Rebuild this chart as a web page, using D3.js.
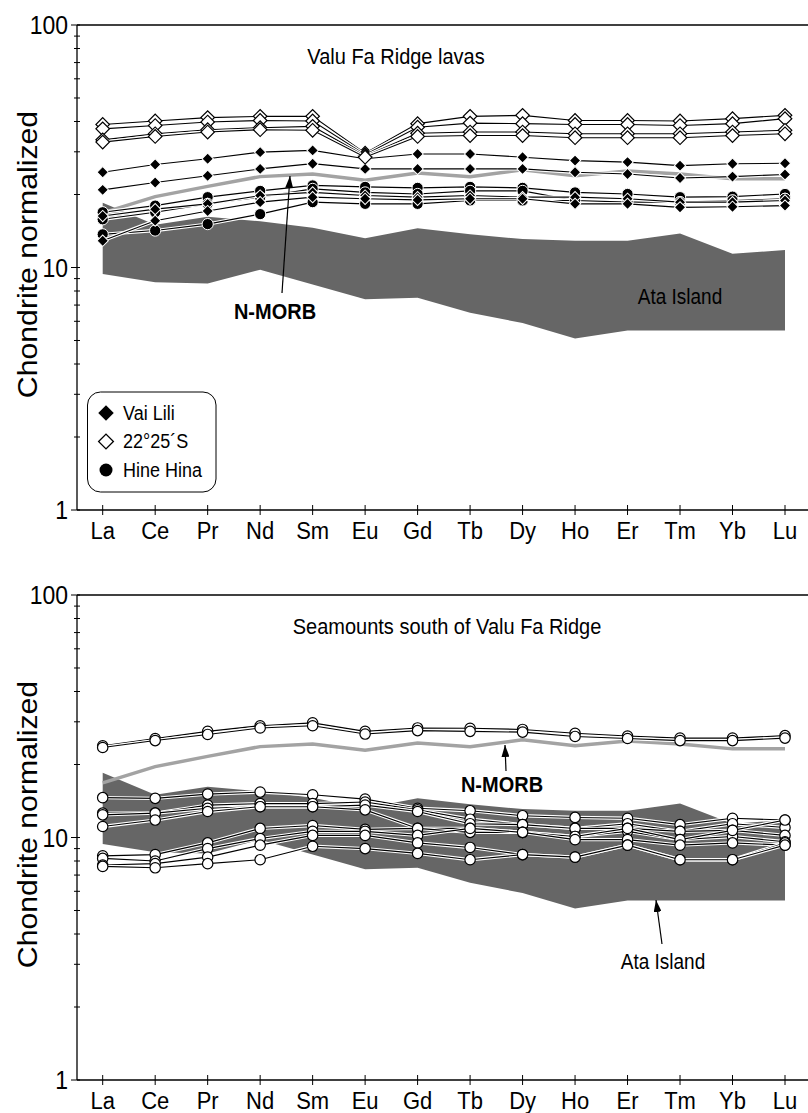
<!DOCTYPE html>
<html>
<head>
<meta charset="utf-8">
<script src="https://cdn.jsdelivr.net/npm/d3@7"></script>
<style>
  body { margin: 0; background: #fff; }
  svg { display: block; font-family: "Liberation Sans", Arial, sans-serif; }
</style>
</head>
<body>
<svg id="chart" width="808" height="1113"></svg>
<script>
// rare earth elements on the x axis
const ree = ["La", "Ce", "Pr", "Nd", "Sm", "Eu", "Gd", "Tb", "Dy", "Ho", "Er", "Tm", "Yb", "Lu"];
const yTickLabels = [1, 10, 100];

// reference curves (chondrite normalized)
const nmorb = [16.8, 19.6, 21.6, 23.7, 24.3, 22.9, 24.5, 23.7, 25.3, 23.9, 25.0, 24.3, 23.2, 23.2];
const ataUpper = [18.5, 15.0, 16.2, 15.5, 14.6, 13.2, 14.5, 13.7, 13.1, 12.9, 12.9, 13.8, 11.4, 11.8];
const ataLower = [9.4, 8.7, 8.6, 9.8, 8.5, 7.4, 7.5, 6.5, 5.9, 5.1, 5.5, 5.5, 5.5, 5.5];

// Valu Fa Ridge lavas
const site2225 = [
  [38.9, 40.2, 41.5, 42.0, 42.0, 29.6, 39.2, 42.0, 42.4, 40.4, 40.4, 40.2, 41.1, 42.4],
  [37.3, 38.5, 39.8, 40.4, 40.2, 29.2, 37.9, 39.4, 39.2, 38.9, 38.9, 38.5, 39.2, 41.1],
  [33.6, 35.6, 37.0, 37.7, 38.2, 28.8, 35.8, 36.2, 36.2, 35.6, 35.6, 35.6, 36.2, 36.8],
  [32.9, 34.7, 36.2, 37.0, 36.8, 28.5, 34.7, 35.0, 35.0, 34.3, 34.3, 34.3, 35.0, 35.6]
];
const vaiLili = [
  [24.7, 26.6, 28.1, 29.9, 30.4, 28.1, 29.4, 29.4, 28.5, 27.6, 27.2, 26.3, 26.8, 26.9],
  [20.9, 22.4, 23.9, 25.5, 26.8, 25.5, 25.5, 25.5, 25.5, 24.7, 24.3, 23.4, 23.7, 24.2],
  [16.3, 17.4, 18.3, 19.8, 20.4, 19.8, 19.5, 19.8, 19.5, 19.5, 19.2, 18.6, 18.6, 18.9],
  [12.9, 15.6, 17.1, 18.6, 19.5, 19.2, 19.0, 19.2, 19.2, 18.3, 18.3, 17.7, 17.8, 18.0]
];
const hineHina = [
  [16.9, 18.0, 19.5, 20.7, 21.8, 21.5, 21.3, 21.5, 21.3, 20.4, 20.1, 19.5, 19.6, 20.1],
  [15.8, 16.9, 18.3, 19.5, 21.1, 20.4, 20.1, 20.7, 20.7, 18.9, 18.6, 18.6, 18.9, 19.2],
  [13.7, 14.2, 15.1, 16.6, 18.6, 18.3, 18.3, 18.9, 18.9, 18.9, 18.6, 18.6, 18.9, 19.2]
];

// Seamounts south of Valu Fa Ridge
const seamounts = [
  [23.9, 25.6, 27.4, 28.9, 29.7, 27.4, 28.3, 28.2, 27.9, 26.9, 26.2, 25.7, 25.7, 26.3],
  [23.5, 25.1, 26.6, 28.3, 28.9, 26.7, 27.6, 27.4, 27.2, 26.1, 25.6, 25.1, 25.1, 25.7],
  [14.6, 14.5, 15.1, 15.4, 15.0, 14.4, 13.2, 12.9, 12.3, 12.1, 12.0, 11.3, 12.0, 11.8],
  [12.6, 12.6, 13.6, 13.8, 13.8, 14.0, 13.0, 11.9, 11.3, 10.9, 11.4, 10.6, 11.4, 11.0],
  [12.4, 12.6, 13.2, 13.4, 13.4, 13.6, 12.8, 11.4, 11.3, 10.9, 10.9, 10.6, 10.7, 10.2],
  [11.1, 11.8, 12.8, 13.4, 13.4, 13.0, 10.9, 10.9, 10.5, 10.1, 10.6, 9.8, 10.1, 9.6],
  [8.4, 8.5, 9.5, 10.9, 11.2, 10.8, 10.9, 10.5, 10.5, 10.1, 10.9, 9.8, 10.7, 11.8],
  [8.2, 8.0, 9.0, 9.9, 10.6, 10.6, 10.2, 10.9, 10.5, 9.8, 9.8, 9.3, 9.5, 9.3],
  [7.7, 7.8, 8.3, 9.3, 10.2, 10.2, 9.5, 9.1, 8.5, 8.3, 9.3, 8.1, 8.1, 9.5],
  [7.6, 7.5, 7.8, 8.1, 9.2, 9.0, 8.6, 8.1, 8.5, 8.3, 9.3, 8.1, 8.1, 9.3]
];

const legendItems = [
  { label: "Vai Lili", kind: "fd" },
  { label: "22°25´S", kind: "od" },
  { label: "Hine Hina", kind: "fc" }
];

const svg = d3.select("#chart");
const axisX = 77;
const rightEdge = 808;
const stretch = 1.12; // the original figure's type is drawn a little tall

svg.append("defs").append("marker")
  .attr("id", "arrow")
  .attr("viewBox", "0 0 12 8")
  .attr("refX", 12).attr("refY", 4)
  .attr("markerWidth", 12).attr("markerHeight", 8)
  .attr("markerUnits", "userSpaceOnUse")
  .attr("orient", "auto")
  .append("path").attr("d", "M0,0 L12,4 L0,8 z").attr("fill", "#000");

const x = d3.scalePoint().domain(ree).range([102.7, 785]);

function addText(g, tx, ty, str, size, anchor, weight) {
  return g.append("text")
    .attr("transform", `translate(${tx},${ty}) scale(1,${stretch})`)
    .attr("text-anchor", anchor || "middle")
    .attr("font-size", size)
    .attr("font-weight", weight || "normal")
    .text(str);
}

function drawMarker(g, cx, cy, kind) {
  if (kind === "fd") {
    g.append("path").attr("d", d3.symbol(d3.symbolSquare, 64)())
      .attr("transform", `translate(${cx},${cy}) rotate(45)`)
      .attr("fill", "#000").attr("stroke", "#fff").attr("stroke-width", 1);
  } else if (kind === "od") {
    g.append("path").attr("d", d3.symbol(d3.symbolSquare, 92)())
      .attr("transform", `translate(${cx},${cy}) rotate(45)`)
      .attr("fill", "#fff").attr("stroke", "#000").attr("stroke-width", 1.2);
  } else if (kind === "fc") {
    g.append("circle").attr("cx", cx).attr("cy", cy).attr("r", 5.6)
      .attr("fill", "#000").attr("stroke", "#fff").attr("stroke-width", 1);
  } else {
    g.append("circle").attr("cx", cx).attr("cy", cy).attr("r", 5.2)
      .attr("fill", "#fff").attr("stroke", "#000").attr("stroke-width", 1.2);
  }
}

function drawPanel(offsetY, title, titleX, series) {
  const g = svg.append("g").attr("transform", `translate(0,${offsetY})`);
  const y = d3.scaleLog().domain([1, 100]).range([510, 25]);
  const line = d3.line().x((d, i) => x(ree[i])).y(d => y(d));

  // Ata Island field
  const area = d3.area()
    .x((d, i) => x(ree[i]))
    .y0((d, i) => y(ataLower[i]))
    .y1(d => y(d));
  g.append("path").datum(ataUpper).attr("d", area).attr("fill", "#666666");

  // N-MORB
  g.append("path").datum(nmorb).attr("d", line)
    .attr("fill", "none").attr("stroke", "#a3a3a3").attr("stroke-width", 3.5);

  // frame: left axis, top line, bottom axis
  g.append("line").attr("x1", axisX).attr("x2", axisX).attr("y1", y(100)).attr("y2", y(1))
    .attr("stroke", "#000").attr("stroke-width", 1.3);
  g.append("line").attr("x1", axisX).attr("x2", rightEdge).attr("y1", y(100)).attr("y2", y(100))
    .attr("stroke", "#000").attr("stroke-width", 1.3);
  g.append("line").attr("x1", axisX).attr("x2", rightEdge).attr("y1", y(1)).attr("y2", y(1))
    .attr("stroke", "#000").attr("stroke-width", 1.3);

  // y ticks
  y.ticks().forEach(v => {
    const major = yTickLabels.includes(v);
    g.append("line")
      .attr("x1", major ? axisX - 6 : axisX - 3).attr("x2", axisX + 3)
      .attr("y1", y(v)).attr("y2", y(v))
      .attr("stroke", "#000").attr("stroke-width", 1);
  });
  yTickLabels.forEach(v => {
    addText(g, axisX - 9, y(v), v, 23, "end").attr("dy", "0.36em");
  });

  // x ticks and labels
  ree.forEach(r => {
    g.append("line").attr("x1", x(r)).attr("x2", x(r))
      .attr("y1", y(1) - 5).attr("y2", y(1) + 5)
      .attr("stroke", "#000").attr("stroke-width", 1);
    addText(g, x(r), y(1) + 29, r, 22);
  });

  // y axis title
  g.append("text")
    .attr("transform", `translate(37,${(y(100) + y(1)) / 2 - 13}) scale(1,${stretch}) rotate(-90)`)
    .attr("text-anchor", "middle").attr("font-size", 27)
    .text("Chondrite normalized");

  // panel title
  addText(g, titleX, 64, title, 20);

  // sample lines
  series.forEach(s => {
    s.values.forEach(vals => {
      g.append("path").datum(vals).attr("d", line)
        .attr("fill", "none").attr("stroke", "#fff").attr("stroke-width", 3.4);
      g.append("path").datum(vals).attr("d", line)
        .attr("fill", "none").attr("stroke", "#000").attr("stroke-width", 1.1);
      vals.forEach((v, i) => drawMarker(g, x(ree[i]), y(v), s.kind));
    });
  });
  return g;
}

// top panel
const topPanel = drawPanel(0, "Valu Fa Ridge lavas", 396, [
  { values: hineHina, kind: "fc" },
  { values: vaiLili, kind: "fd" },
  { values: site2225, kind: "od" }
]);

addText(topPanel, 680, 304, "Ata Island", 19);
topPanel.append("line").attr("x1", 282).attr("y1", 293).attr("x2", 290).attr("y2", 176)
  .attr("stroke", "#000").attr("stroke-width", 1.2).attr("marker-end", "url(#arrow)");
addText(topPanel, 275, 319, "N-MORB", 20, "middle", "bold");

// legend
const lg = topPanel.append("g");
lg.append("rect").attr("x", 87.5).attr("y", 392).attr("width", 128.5).attr("height", 100)
  .attr("rx", 13).attr("fill", "#fff").attr("stroke", "#000").attr("stroke-width", 1);
legendItems.forEach((it, i) => {
  const cy = 413 + i * 28.5;
  if (it.kind === "fd") {
    lg.append("path").attr("d", d3.symbol(d3.symbolSquare, 120)())
      .attr("transform", `translate(106,${cy}) rotate(45)`).attr("fill", "#000");
  } else if (it.kind === "od") {
    lg.append("path").attr("d", d3.symbol(d3.symbolSquare, 110)())
      .attr("transform", `translate(106,${cy}) rotate(45)`)
      .attr("fill", "#fff").attr("stroke", "#000").attr("stroke-width", 1.3);
  } else {
    lg.append("circle").attr("cx", 106).attr("cy", cy).attr("r", 6.5).attr("fill", "#000");
  }
  addText(lg, 123, cy + 6.5, it.label, 18, "start");
});

// bottom panel
const bottomPanel = drawPanel(570, "Seamounts south of Valu Fa Ridge", 447, [
  { values: seamounts, kind: "oc" }
]);

bottomPanel.append("line").attr("x1", 506).attr("y1", 201).attr("x2", 505).attr("y2", 175)
  .attr("stroke", "#000").attr("stroke-width", 1.2).attr("marker-end", "url(#arrow)");
addText(bottomPanel, 502, 222, "N-MORB", 20, "middle", "bold");
bottomPanel.append("line").attr("x1", 662).attr("y1", 374).attr("x2", 656).attr("y2", 330)
  .attr("stroke", "#000").attr("stroke-width", 1.2).attr("marker-end", "url(#arrow)");
addText(bottomPanel, 663, 399, "Ata Island", 19);
</script>
</body>
</html>
